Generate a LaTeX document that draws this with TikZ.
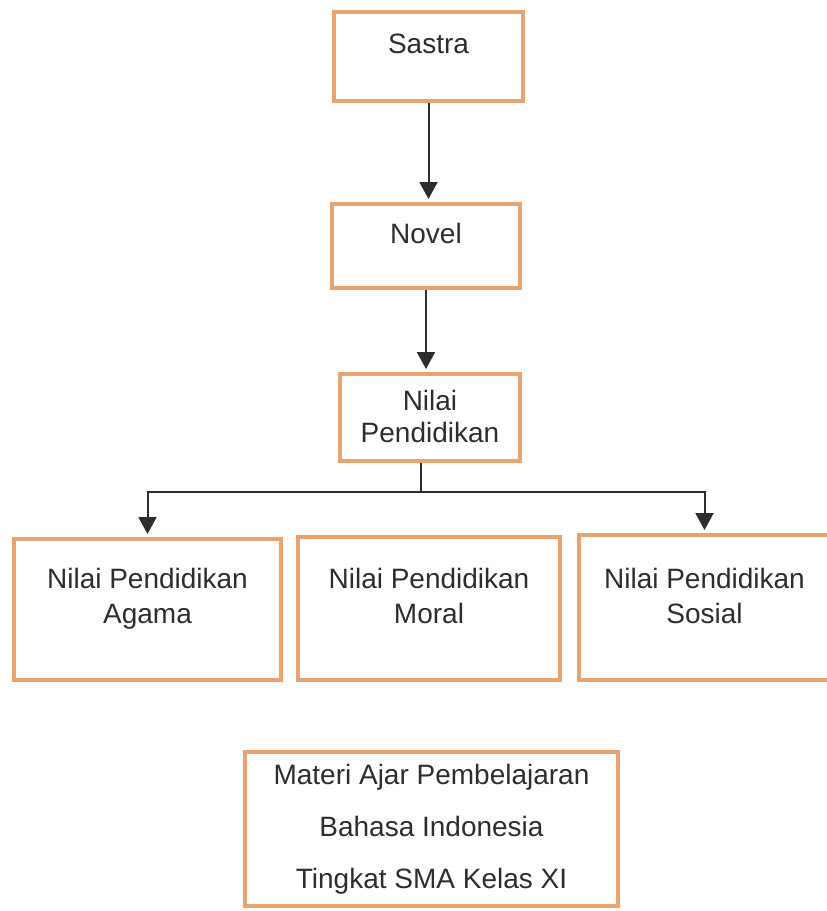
\documentclass[tikz,border=0pt]{standalone}
\usepackage{fontspec}
\setmainfont{Liberation Sans}
\usetikzlibrary{arrows.meta, positioning, calc}
\definecolor{boxorange}{RGB}{233,163,110}
\definecolor{ink}{RGB}{45,45,45}
\tikzstyle{Box}=[rectangle, draw=boxorange, line width=2pt, align=center, text=ink, font=\fontsize{14}{17}\selectfont, text height=10pt]
\tikzstyle{Link}=[draw=ink, line width=1pt]
\tikzstyle{Arrow}=[Link, -{Triangle[width=9pt,length=8.5pt]}, shorten >=1.5pt]

\begin{document}
\begin{tikzpicture}[x=0.5pt, y=-0.5pt]
		\useasboundingbox (0,0) rectangle (826,911);
		\node[Box, minimum width=94.5pt, minimum height=44.5pt, text depth=13.5pt] (sastra) at (428.5,56.5) {Sastra};
		\node[Box, minimum width=94pt, minimum height=42pt, text depth=13pt] (novel) at (426,246) {Novel};
		\node[Box, minimum width=90pt, minimum height=43.5pt, text height=24.5pt, text depth=0pt] (nilai) at (430,417.5) {Nilai\\[-1pt]Pendidikan};
		\node[Box, minimum width=133.5pt, minimum height=70.5pt, text height=13.5pt, text depth=0pt] (agama) at (147.5,609.5) {Nilai Pendidikan\\[0.5pt]Agama};
		\node[Box, minimum width=131pt, minimum height=71.5pt, text height=14.5pt, text depth=0pt] (moral) at (429,608.5) {Nilai Pendidikan\\[0.5pt]Moral};
		\node[Box, minimum width=125.5pt, minimum height=72.5pt, text height=15.5pt, text depth=0pt] (sosial) at (704.5,607.5) {Nilai Pendidikan\\[0.5pt]Sosial};
		\node[Box, minimum width=186.5pt, minimum height=77pt, text height=59pt, text depth=0pt] (materi) at (431.5,829) {Materi Ajar Pembelajaran\\[9pt]Bahasa Indonesia\\[9pt]Tingkat SMA Kelas XI};
		% connectors
		\coordinate (fork) at (421,492);
		\draw[Arrow] (sastra.south) -- (sastra.south |- novel.north);
		\draw[Arrow] (novel.south) -- (novel.south |- nilai.north);
		\draw[Link] (fork |- nilai.south) -- (fork);
		\draw[Arrow] (fork) -| (agama.north);
		\draw[Arrow] (fork) -| (sosial.north);
\end{tikzpicture}
\end{document}
